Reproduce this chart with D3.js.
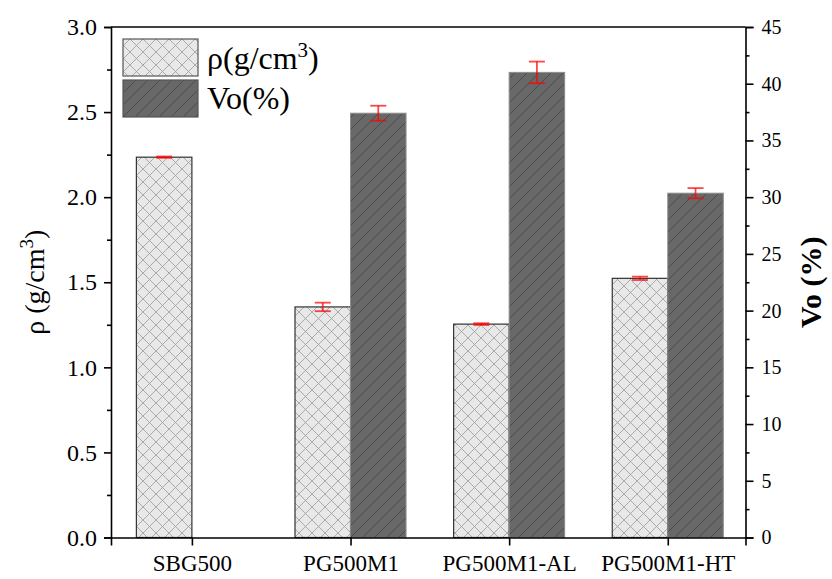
<!DOCTYPE html>
<html>
<head>
<meta charset="utf-8">
<script src="https://cdn.jsdelivr.net/npm/d3@7"></script>
<style>
  body { margin: 0; background: #fff; }
  text { font-family: "Liberation Serif", "Times New Roman", serif; fill: #000; }
</style>
</head>
<body>
<div id="chart"></div>
<script>
// values
var categories = ["SBG500", "PG500M1", "PG500M1-AL", "PG500M1-HT"];
var density = [2.235, 1.355, 1.254, 1.523];
var densityErr = [0.004, 0.025, 0.005, 0.01];
var porosity = [null, 37.4, 41.0, 30.35];
var porosityErr = [null, 0.66, 0.95, 0.45];
var leftTicks = [0, 0.5, 1.0, 1.5, 2.0, 2.5, 3.0];
var rightTicks = [0, 5, 10, 15, 20, 25, 30, 35, 40, 45];

var W = 832, H = 579;
var plotLeft = 111, plotRight = 745.5, plotTop = 27, plotBottom = 537.5;
var serif = '"Liberation Serif", "Times New Roman", serif';

var svg = d3.select('#chart').append('svg')
  .attr('width', W)
  .attr('height', H);

var defs = svg.append('defs');

// cross hatch for the density bars
var cross = defs.append('pattern')
  .attr('id', 'cross')
  .attr('patternUnits', 'userSpaceOnUse')
  .attr('width', 13).attr('height', 13);
cross.append('rect').attr('width', 13).attr('height', 13).attr('fill', '#e8e8e8');
cross.append('path').attr('d', 'M0,0L13,13M13,0L0,13')
  .attr('stroke', '#9a9a9a').attr('stroke-width', 0.8);

// single diagonal for the porosity bars
var diag = defs.append('pattern')
  .attr('id', 'diag')
  .attr('patternUnits', 'userSpaceOnUse')
  .attr('width', 12).attr('height', 12);
diag.append('rect').attr('width', 12).attr('height', 12).attr('fill', '#686868');
diag.append('path').attr('d', 'M0,12L12,0M-3,3L3,-3M9,15L15,9')
  .attr('stroke', '#484848').attr('stroke-width', 0.9);

var x = d3.scaleLinear().domain([0.49, 4.49]).range([plotLeft, plotRight]);
var yL = d3.scaleLinear().domain([0, 3]).range([plotBottom, plotTop]);
var yR = d3.scaleLinear().domain([0, 45]).range([plotBottom, plotTop]);
var bw = 0.35;

var rows = categories.map(function (c, i) {
  return { name: c, pos: i + 1, d: density[i], de: densityErr[i], v: porosity[i], ve: porosityErr[i] };
});

// density bars
svg.selectAll('rect.dens').data(rows).enter().append('rect')
  .attr('class', 'dens')
  .attr('x', function (d) { return x(d.pos - bw); })
  .attr('width', function (d) { return x(d.pos) - x(d.pos - bw); })
  .attr('y', function (d) { return yL(d.d); })
  .attr('height', function (d) { return yL(0) - yL(d.d); })
  .attr('fill', 'url(#cross)')
  .attr('stroke', '#333')
  .attr('stroke-width', 1.2);

// porosity bars
var vrows = rows.filter(function (d) { return d.v != null; });
svg.selectAll('rect.por').data(vrows).enter().append('rect')
  .attr('class', 'por')
  .attr('x', function (d) { return x(d.pos); })
  .attr('width', function (d) { return x(d.pos + bw) - x(d.pos); })
  .attr('y', function (d) { return yR(d.v); })
  .attr('height', function (d) { return yR(0) - yR(d.v); })
  .attr('fill', 'url(#diag)')
  .attr('stroke', '#8c8c8c')
  .attr('stroke-width', 1);

// error bars
var errColor = 'rgba(255,0,0,0.72)';
function errBar(cx, y1, y2) {
  var g = svg.append('g').attr('stroke', errColor).attr('stroke-width', 1.8);
  g.append('line').attr('x1', cx).attr('x2', cx).attr('y1', y1).attr('y2', y2);
  g.append('line').attr('x1', cx - 8).attr('x2', cx + 8).attr('y1', y1).attr('y2', y1);
  g.append('line').attr('x1', cx - 8).attr('x2', cx + 8).attr('y1', y2).attr('y2', y2);
}
rows.forEach(function (d) {
  errBar(x(d.pos - bw / 2), yL(d.d + d.de), yL(d.d - d.de));
});
vrows.forEach(function (d) {
  errBar(x(d.pos + bw / 2), yR(d.v + d.ve), yR(d.v - d.ve));
});

// axes
function styleAxis(g) {
  g.select('.domain').attr('stroke', '#000').attr('stroke-width', 1.6);
  g.selectAll('.tick line').attr('stroke', '#000').attr('stroke-width', 1.6);
}

var axL = svg.append('g').attr('transform', 'translate(' + plotLeft + ',0)')
  .call(d3.axisLeft(yL).tickValues(leftTicks).tickSize(7).tickPadding(7)
    .tickFormat(d3.format('.1f')));
styleAxis(axL);
axL.selectAll('text').style('font-size', '24px').style('font-family', serif);

var axLm = svg.append('g').attr('transform', 'translate(' + plotLeft + ',0)')
  .call(d3.axisLeft(yL).tickValues(d3.range(0.25, 3, 0.5)).tickSize(4).tickFormat(''));
styleAxis(axLm);
axLm.select('.domain').remove();

var axR = svg.append('g').attr('transform', 'translate(' + plotRight + ',0)')
  .call(d3.axisRight(yR).tickValues(rightTicks).tickSize(8).tickPadding(8));
styleAxis(axR);
axR.selectAll('text').style('font-size', '20px').style('font-family', serif);

var axRm = svg.append('g').attr('transform', 'translate(' + plotRight + ',0)')
  .call(d3.axisRight(yR).tickValues(d3.range(2.5, 45, 5)).tickSize(4).tickFormat(''));
styleAxis(axRm);
axRm.select('.domain').remove();

var axB = svg.append('g').attr('transform', 'translate(0,' + plotBottom + ')')
  .call(d3.axisBottom(x).tickValues([1, 2, 3, 4]).tickSize(8).tickPadding(9)
    .tickFormat(function (d) { return categories[d - 1]; }));
styleAxis(axB);
axB.selectAll('text').style('font-size', '23px').style('font-family', serif);

// top frame
svg.append('line')
  .attr('x1', plotLeft).attr('x2', plotRight).attr('y1', plotTop).attr('y2', plotTop)
  .attr('stroke', '#000').attr('stroke-width', 1.6);

// axis titles
var tl = svg.append('text')
  .attr('transform', 'translate(44,' + ((plotTop + plotBottom) / 2) + ') rotate(-90)')
  .attr('text-anchor', 'middle')
  .style('font-family', serif)
  .style('font-size', '28px');
tl.append('tspan').text('ρ (g/cm');
tl.append('tspan').attr('dy', -11).style('font-size', '19px').text('3');
tl.append('tspan').attr('dy', 11).text(')');

svg.append('text')
  .attr('transform', 'translate(821,' + ((plotTop + plotBottom) / 2) + ') rotate(-90)')
  .attr('text-anchor', 'middle')
  .style('font-family', serif)
  .style('font-size', '30px')
  .style('font-weight', 'bold')
  .text('Vo (%)');

// legend
var legend = svg.append('g');
legend.append('rect').attr('x', 123).attr('y', 39).attr('width', 75).attr('height', 37)
  .attr('fill', 'url(#cross)').attr('stroke', '#555').attr('stroke-width', 1.2);
legend.append('rect').attr('x', 123).attr('y', 80).attr('width', 75).attr('height', 37)
  .attr('fill', 'url(#diag)').attr('stroke', '#555').attr('stroke-width', 1.2);
var lt = legend.append('text').attr('x', 207).attr('y', 69)
  .style('font-family', serif).style('font-size', '32px');
lt.append('tspan').text('ρ(g/cm');
lt.append('tspan').attr('dy', -12).style('font-size', '21px').text('3');
lt.append('tspan').attr('dy', 12).text(')');
legend.append('text').attr('x', 207).attr('y', 109)
  .style('font-family', serif).style('font-size', '32px').text('Vo(%)');
</script>
</body>
</html>
